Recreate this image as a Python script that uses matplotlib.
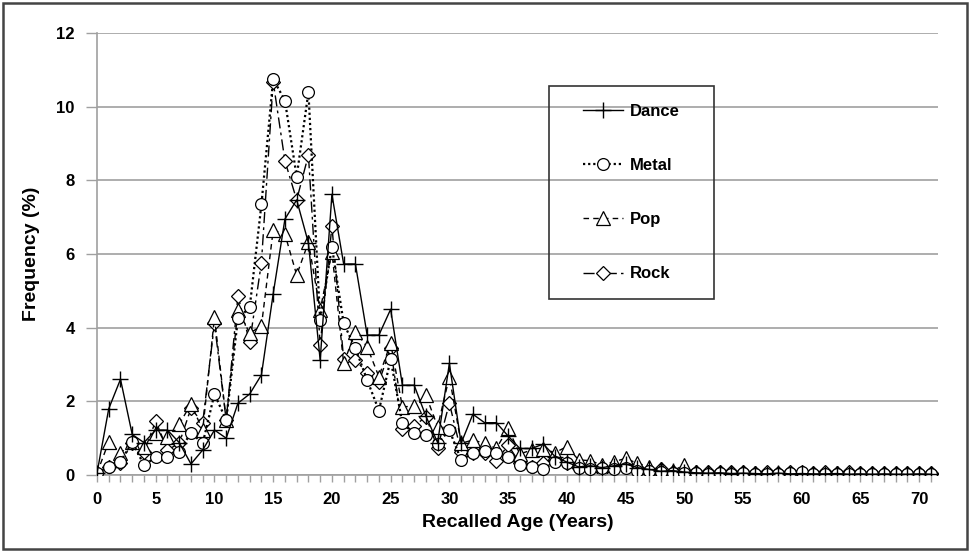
import matplotlib
matplotlib.use("Agg")
import matplotlib.pyplot as plt
from matplotlib.patches import Rectangle
import numpy as np

plt.rcParams['font.family'] = ['Liberation Sans', 'DejaVu Sans']
plt.rcParams['font.weight'] = 'bold'

# 回想年齡 0..71
ages = np.arange(72)

dance = [0.05, 1.8, 2.6, 1.1, 0.88, 1.22, 1.22, 0.88, 0.3, 0.68,
         1.22, 1.0, 1.95, 2.2, 2.72, 4.92, 6.95, 7.47, 6.3, 3.12,
         7.62, 5.73, 5.73, 3.8, 3.8, 4.5, 2.44, 2.44, 1.6, 0.88,
         3.03, 0.86, 1.65, 1.42, 1.42, 1.06, 0.72, 0.72, 0.84, 0.5,
         0.35, 0.22, 0.25, 0.2, 0.25, 0.3, 0.2, 0.15, 0.1, 0.12,
         0.08, 0.06, 0.05, 0.06, 0.04, 0.05, 0.04, 0.03, 0.05, 0.03,
         0.04, 0.03, 0.03, 0.04, 0.02, 0.03, 0.02, 0.03, 0.02, 0.02,
         0.03, 0.02]
metal = [0.05, 0.23, 0.36, 0.9, 0.27, 0.48, 0.5, 0.63, 1.15, 0.86,
         2.2, 1.49, 4.25, 4.55, 7.35, 10.75, 10.17, 8.1, 10.4, 4.2,
         6.2, 4.12, 3.44, 2.58, 1.75, 3.14, 1.4, 1.13, 1.09, 0.85,
         1.22, 0.41, 0.59, 0.64, 0.6, 0.48, 0.27, 0.23, 0.15, 0.36,
         0.32, 0.2, 0.15, 0.2, 0.15, 0.2, 0.1, 0.12, 0.08, 0.06,
         0.06, 0.05, 0.04, 0.05, 0.04, 0.05, 0.03, 0.04, 0.03, 0.05,
         0.08, 0.04, 0.03, 0.04, 0.03, 0.04, 0.03, 0.03, 0.04, 0.03,
         0.03, 0.03]
pop = [0.05, 0.9, 0.59, 0.9, 0.77, 1.15, 1.04, 1.38, 1.93, 1.22,
       4.28, 1.5, 4.48, 3.85, 4.05, 6.65, 6.54, 5.43, 6.32, 4.48,
       6.06, 3.03, 3.89, 3.48, 2.67, 3.58, 1.85, 1.87, 2.17, 1.31,
       2.67, 0.86, 0.95, 0.86, 0.72, 1.27, 0.57, 0.68, 0.7, 0.61,
       0.77, 0.41, 0.39, 0.27, 0.36, 0.45, 0.32, 0.23, 0.15, 0.1,
       0.28, 0.08, 0.06, 0.05, 0.06, 0.04, 0.05, 0.04, 0.03, 0.04,
       0.03, 0.04, 0.03, 0.05, 0.03, 0.03, 0.04, 0.03, 0.03, 0.02,
       0.03, 0.02]
rock = [0.05, 0.23, 0.32, 0.88, 0.63, 1.47, 0.68, 0.86, 1.81, 1.42,
        4.12, 1.49, 4.87, 3.6, 5.77, 10.68, 8.53, 7.47, 8.69, 3.53,
        6.76, 3.14, 3.12, 2.78, 2.53, 3.44, 1.24, 1.33, 1.58, 0.74,
        1.95, 0.63, 0.59, 0.61, 0.38, 0.81, 0.32, 0.23, 0.32, 0.41,
        0.32, 0.2, 0.23, 0.12, 0.2, 0.27, 0.2, 0.1, 0.15, 0.08,
        0.1, 0.07, 0.08, 0.07, 0.08, 0.07, 0.06, 0.07, 0.06, 0.07,
        0.09, 0.06, 0.07, 0.06, 0.07, 0.06, 0.06, 0.06, 0.06, 0.06,
        0.06, 0.06]

fig = plt.figure(figsize=(9.7, 5.52), dpi=100)
ax = fig.add_axes([0.1, 0.1395, 0.867, 0.8005])

mk = dict(markerfacecolor='white', markeredgecolor='black', markeredgewidth=0.9)
ax.plot(ages, dance, color='black', lw=1.0, marker='+', markersize=11, label='Dance', zorder=5)
ax.plot(ages, metal, color='black', lw=1.6, linestyle=(0, (1, 1.3)), marker='o', markersize=8.5, label='Metal', zorder=4, **mk)
ax.plot(ages, pop, color='black', lw=1.0, linestyle=(0, (4, 3)), marker='^', markersize=9.5, label='Pop', zorder=3, **mk)
ax.plot(ages, rock, color='black', lw=1.0, linestyle=(0, (8, 3, 2, 3)), marker='D', markersize=7, label='Rock', zorder=2, **mk)

ax.set_xlim(0, 71.6)
ax.set_ylim(0, 12)
ax.set_yticks(np.arange(0, 13, 2))
ax.set_xticks(np.arange(0, 72, 1))
ax.set_xticklabels([str(a) if a % 5 == 0 else '' for a in range(72)])
ax.grid(axis='y', color='#a0a0a0', lw=1.2)
ax.set_axisbelow(True)
for s in ['top', 'right']:
    ax.spines[s].set_visible(False)
for s in ['left', 'bottom']:
    ax.spines[s].set_color('#a0a0a0')
    ax.spines[s].set_linewidth(1.2)
ax.tick_params(axis='both', colors='#a0a0a0', labelcolor='black', labelsize=12, length=5, width=1)
ax.tick_params(axis='y', length=8, pad=8)
ax.tick_params(axis='x', pad=7)
for lab in ax.get_xticklabels() + ax.get_yticklabels():
    lab.set_fontweight('bold')

ax.set_xlabel('Recalled Age (Years)', fontsize=14, fontweight='bold', labelpad=5)
ax.set_ylabel('Frequency (%)', fontsize=14, fontweight='bold', labelpad=12)

leg = fig.legend(loc='center', bbox_to_anchor=(0.651, 0.651), frameon=False,
                 labelspacing=2.35, handlelength=2.4, handletextpad=0.4,
                 prop={'weight': 'bold', 'size': 12})
fig.patches.append(Rectangle((549 / 970, 1 - 299 / 552), 165 / 970, 213 / 552,
                             transform=fig.transFigure, fill=False,
                             edgecolor='#333333', lw=1.2))
# 外框
fig.patches.append(Rectangle((0.003, 0.005), 0.994, 0.99, transform=fig.transFigure,
                             fill=False, edgecolor='#444444', lw=1.8))

fig.savefig('out.png', dpi=100)
